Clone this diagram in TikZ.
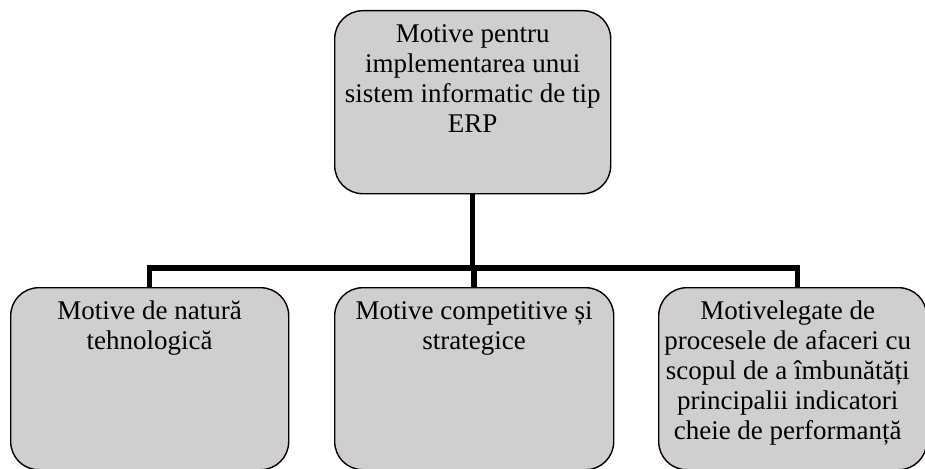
\documentclass[tikz,border=0pt]{standalone}
\usepackage{fontspec}
\setmainfont{Liberation Serif}
\definecolor{boxgray}{HTML}{D0CECE}
\newcommand\boxtext[3]{\parbox[t][#2][t]{#1}{\centering\fontsize{27}{30}\selectfont\rule{0pt}{20pt}#3}}
\begin{document}
\begin{tikzpicture}[x=1pt,y=-1pt,
  box/.style={draw=black, line width=1.4pt, fill=boxgray, rounded corners=28pt,
    inner xsep=1pt, inner ysep=12pt, anchor=north west},
  conn/.style={line width=5.5pt, draw=black}]
\useasboundingbox (0,0) rectangle (925,468);
\clip (0,0) rectangle (925,468);

\node[box] (top) at (334,10)
  {\boxtext{274pt}{159pt}{Motive pentru\\implementarea unui\\sistem informatic de tip\\ERP}};
\node[box] (left) at (10,287)
  {\boxtext{276pt}{158pt}{Motive de natură\\tehnologică}};
\node[box] (mid) at (334,287)
  {\boxtext{277pt}{158pt}{Motive competitive și\\strategice}};
\node[box] (right) at (658,287)
  {\boxtext{256pt}{158pt}{Motivelegate de\\procesele de afaceri cu\\scopul de a îmbunătăți\\principalii indicatori\\cheie de performanță}\hspace*{10pt}};

\coordinate (bus) at (473,268);
\draw[conn] (top.south) -- (top.south |- bus);
\draw[conn] (left.north) |- ([xshift=5pt]right.north |- bus) -- ([xshift=5pt]right.north);
\draw[conn] (mid.north) -- (mid.north |- bus);
\end{tikzpicture}
\end{document}
